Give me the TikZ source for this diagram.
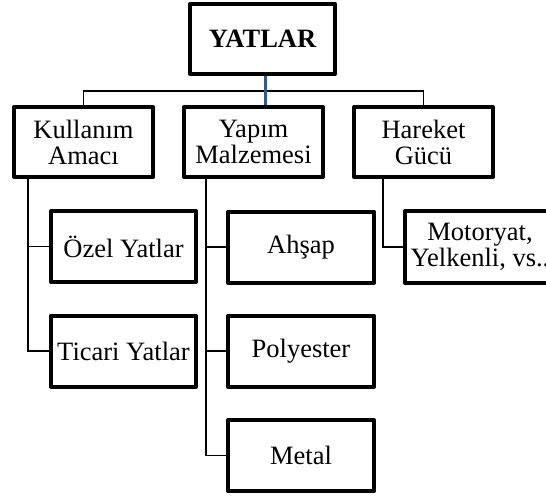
\documentclass[tikz,border=0pt]{standalone}
\usepackage{fontspec}
\setmainfont{Liberation Serif}
\definecolor{busblue}{RGB}{46,92,140}
\begin{document}
\begin{tikzpicture}[x=1pt,y=-1pt,
  box/.style={draw=black,line width=4pt,line join=round,inner sep=0pt,align=center,
    font=\fontsize{26.5}{26}\selectfont,minimum height=71pt},
  link/.style={draw=black,line width=1.3pt}]
\useasboundingbox (0,0) rectangle (546,498);
\clip (0,0) rectangle (546,498);
% top
\node[box,minimum width=145pt,minimum height=70pt,font=\fontsize{26.5}{26}\selectfont\bfseries] (top) at (262.5,39) {YATLAR};
% level 2
\node[box,minimum width=139pt,minimum height=70pt] (kul) at (83.5,142) {Kullanım\\Amacı};
\node[box,minimum width=139pt,minimum height=70pt] (yap) at (253.5,142) {Yapım\\Malzemesi};
\node[box,minimum width=139pt,minimum height=70pt] (har) at (423.5,142) {Hareket\\Gücü};
% level 3
\node[box,minimum width=145pt] (ozel) at (123.5,246.5) {Özel Yatlar};
\node[box,minimum width=145pt] (tic) at (123.5,351) {Ticari Yatlar};
\node[box,minimum width=146pt] (ahs) at (301,247) {Ahşap};
\node[box,minimum width=146pt] (pol) at (301,351) {Polyester};
\node[box,minimum width=146pt] (met) at (301,455.5) {Metal};
\node[box,minimum width=150pt,minimum height=72pt] (mot) at (480,247) {Motoryat,\\Yelkenli, vs..};
% connectors
\coordinate (bus) at (262.5,91);
\draw[link] (kul.north) |- (bus) -| (har.north);
\draw[draw=busblue,line width=3pt] ([xshift=2.5pt]top.south) -- ([xshift=2.5pt]top.south |- yap.north);
\coordinate (kv) at (28,177);
\draw[link] (kv) |- (tic.west);
\draw[link] (kv |- ozel.west) -- (ozel.west);
\coordinate (yv) at (206,177);
\draw[link] (yv) |- (met.west);
\draw[link] (yv |- ahs.west) -- (ahs.west);
\draw[link] (yv |- pol.west) -- (pol.west);
\coordinate (hv) at (383,177);
\draw[link] (hv) |- (mot.west);
\end{tikzpicture}
\end{document}
